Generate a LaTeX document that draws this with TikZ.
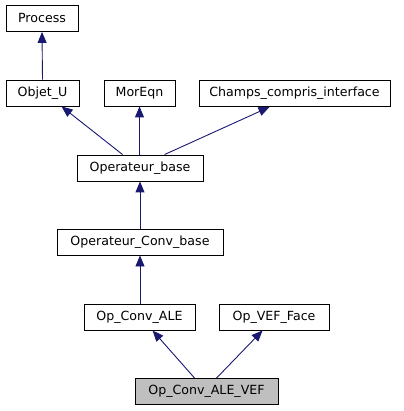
\documentclass[tikz,border=0pt]{standalone}
\usepackage{fontspec}
\setmainfont{DejaVu Sans}
\usetikzlibrary{arrows.meta,calc}
\definecolor{edgeblue}{HTML}{191970}
\begin{document}
\begin{tikzpicture}[x=1pt,y=-1pt,
  cls/.style={draw=black,fill=white,line width=0.9pt,inner sep=0pt,minimum height=26pt,font=\fontsize{12.6}{15}\selectfont},
  cur/.style={cls,fill=black!25},
  edge/.style={draw=edgeblue,line width=0.9pt,-{Triangle[length=11pt,width=9pt]}}]
\useasboundingbox (0,0) rectangle (403,411);
\node[cls,minimum width=72pt] (process) at (42,18.5) {Process};
\node[cls,minimum width=73pt] (objet) at (42.5,93) {Objet\_U};
\node[cls,minimum width=71pt] (moreqn) at (139.5,93) {MorEqn};
\node[cls,minimum width=191pt] (champs) at (294.5,93.5) {Champs\_compris\_interface};
\node[cls,minimum width=126pt] (opbase) at (140,168) {Operateur\_base};
\node[cls,minimum width=166pt] (opconv) at (140,242) {Operateur\_Conv\_base};
\node[cls,minimum width=111pt] (ale) at (139.5,317) {Op\_Conv\_ALE};
\node[cls,minimum width=110pt] (vef) at (274,317) {Op\_VEF\_Face};
\node[cur,minimum width=143pt] (final) at (206.5,391.5) {Op\_Conv\_ALE\_VEF};
\draw[edge] (objet.north) -- (process.south);
\draw[edge] ($(opbase.north west)+(46,0)$) -- ($(objet.south west)+(56,0)$);
\draw[edge] (opbase.north -| moreqn.south) -- (moreqn.south);
\draw[edge] ($(opbase.north west)+(88,0)$) -- ($(champs.south west)+(71,0)$);
\draw[edge] (opbase.south |- opconv.north) -- (opbase.south);
\draw[edge] (opconv.south |- ale.north) -- (opconv.south);
\draw[edge] ($(final.north west)+(60,0)$) -- ($(ale.south west)+(69,0)$);
\draw[edge] ($(final.north west)+(82,0)$) -- ($(vef.south west)+(44,0)$);
\end{tikzpicture}
\end{document}
